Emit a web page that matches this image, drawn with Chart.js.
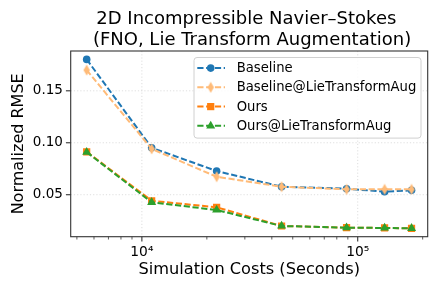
<!DOCTYPE html>
<html><head><meta charset="utf-8">
<script src="https://cdn.jsdelivr.net/npm/chart.js@4/dist/chart.umd.min.js"></script>
<style>html,body{margin:0;padding:0;background:#fff;}#wrap{width:439px;height:292px;position:relative}</style>
</head><body><div id="wrap"><canvas id="c"></canvas></div>
<script>
// ---- data ----
const simulationCosts = [5550, 11100, 22200, 44400, 88800, 133200, 177600];
const baseline     = [0.1802, 0.0952, 0.0728, 0.0577, 0.0558, 0.0529, 0.0542];
const baselineLie  = [0.1699, 0.0941, 0.0673, 0.0577, 0.0552, 0.0552, 0.0552];
const ours         = [0.0913, 0.0442, 0.0379, 0.0199, 0.0183, 0.0180, 0.0177];
const oursLie      = [0.0910, 0.0427, 0.0353, 0.0199, 0.0183, 0.0180, 0.0177];
const seriesNames  = ['Baseline', 'Baseline@LieTransformAug', 'Ours', 'Ours@LieTransformAug'];
const xMajorTicks  = [1e4, 1e5];
const xTickLabels  = ['10⁴', '10⁵'];
const xMinorTicks  = [5000,6000,7000,8000,9000,20000,30000,40000,50000,60000,70000,80000,90000,200000];
const yTicks       = [0.05, 0.10, 0.15];
const yTickLabels  = ['0.05', '0.10', '0.15'];
const titleLines   = ['2D Incompressible Navier–Stokes ', ' (FNO, Lie Transform Augmentation)'];
const xTitle = 'Simulation Costs (Seconds)';
const yTitle = 'Normalized RMSE';

// ---- styles ----
const colors = ['#1f77b4', '#ffbb78', '#ff7f0e', '#2ca02c'];
const FONT = "'DejaVu Sans', sans-serif";

function thinDiamond(color){
  const c = document.createElement('canvas');
  c.width = 8; c.height = 12;
  const g = c.getContext('2d');
  g.beginPath(); g.moveTo(4,0.5); g.lineTo(7.2,6); g.lineTo(4,11.5); g.lineTo(0.8,6); g.closePath();
  g.fillStyle = color; g.fill();
  return c;
}
const markers = [
  {pointStyle:'circle', radius:3.8},
  {pointStyle:thinDiamond(colors[1]), radius:5},
  {pointStyle:'rect', radius:5.1},
  {pointStyle:'triangle', radius:5.2}
];
const seriesData = [baseline, baselineLie, ours, oursLie];
const DASH = [6.2, 2.6];

const datasets = seriesData.map((arr,i)=>({
  label: seriesNames[i],
  data: simulationCosts.map((x,j)=>({x, y: arr[j]})),
  borderColor: colors[i], backgroundColor: colors[i],
  borderWidth: 2, borderDash: DASH,
  pointStyle: markers[i].pointStyle, pointRadius: markers[i].radius,
  pointBorderWidth: 0, pointHoverRadius: markers[i].radius,
  tension: 0, fill: false,
  order: 4 - i
}));

const decor = {
  id: 'decor',
  beforeDatasetsDraw(chart){
    const {ctx, chartArea:a, scales:{x, y}} = chart;
    ctx.save();
    ctx.strokeStyle = 'rgba(176,176,176,0.5)'; ctx.lineWidth = 0.8; ctx.setLineDash([1.2,2]);
    xMajorTicks.forEach(v=>{const p=x.getPixelForValue(v); ctx.beginPath(); ctx.moveTo(p,a.top); ctx.lineTo(p,a.bottom); ctx.stroke();});
    yTicks.forEach(v=>{const p=y.getPixelForValue(v); ctx.beginPath(); ctx.moveTo(a.left,p); ctx.lineTo(a.right,p); ctx.stroke();});
    ctx.restore();
  },
  afterDatasetsDraw(chart){
    const {ctx, chartArea:a, scales:{x, y}} = chart;
    ctx.save();
    ctx.strokeStyle = '#333'; ctx.lineWidth = 1.1; ctx.setLineDash([]);
    ctx.strokeRect(a.left, a.top, a.right-a.left, a.bottom-a.top);
    const tick = (x1,y1,x2,y2)=>{ctx.beginPath(); ctx.moveTo(x1,y1); ctx.lineTo(x2,y2); ctx.stroke();};
    xMajorTicks.forEach(v=>{const p=x.getPixelForValue(v); tick(p,a.bottom,p,a.bottom+4.8);});
    ctx.lineWidth = 0.8;
    xMinorTicks.forEach(v=>{const p=x.getPixelForValue(v); tick(p,a.bottom,p,a.bottom+2.8);});
    ctx.lineWidth = 1.1;
    yTicks.forEach(v=>{const p=y.getPixelForValue(v); tick(a.left-4.8,p,a.left,p);});
    ctx.restore();
  },
  afterDraw(chart){
    const {ctx, chartArea:a} = chart;
    ctx.save();
    const L = a.right - 233.7, T = a.top + 6.5, W = 227, H = 80.6;
    const r = 3;
    ctx.beginPath();
    ctx.moveTo(L+r,T); ctx.lineTo(L+W-r,T); ctx.arcTo(L+W,T,L+W,T+r,r);
    ctx.lineTo(L+W,T+H-r); ctx.arcTo(L+W,T+H,L+W-r,T+H,r);
    ctx.lineTo(L+r,T+H); ctx.arcTo(L,T+H,L,T+H-r,r);
    ctx.lineTo(L,T+r); ctx.arcTo(L,T,L+r,T,r); ctx.closePath();
    ctx.fillStyle = 'rgba(255,255,255,0.85)'; ctx.fill();
    ctx.strokeStyle = '#d0d0d0'; ctx.lineWidth = 1; ctx.stroke();
    ctx.font = '13.2px ' + FONT; ctx.textBaseline = 'middle'; ctx.textAlign = 'left';
    seriesNames.forEach((name,i)=>{
      const ry = T + 10.6 + i*19.25;
      const hx = L + 3.3;
      ctx.strokeStyle = colors[i]; ctx.fillStyle = colors[i];
      ctx.lineWidth = 2; ctx.setLineDash(DASH);
      ctx.beginPath(); ctx.moveTo(hx, ry); ctx.lineTo(hx+27.7, ry); ctx.stroke();
      ctx.setLineDash([]);
      Chart.helpers.drawPoint(ctx, {pointStyle: markers[i].pointStyle, radius: markers[i].radius, rotation: 0, borderWidth: 0}, hx+13.4, ry);
      ctx.fillStyle = '#000';
      ctx.fillText(name, L + 42.7, ry + 0.5);
    });
    ctx.restore();
  }
};

new Chart(document.getElementById('c'), {
  type: 'line',
  data: { datasets },
  plugins: [decor],
  options: {
    responsive: true, maintainAspectRatio: false, animation: false,
    layout: { padding: { top: 0, right: 11.3, bottom: 0, left: 0 } },
    plugins: {
      legend: { display: false },
      tooltip: { enabled: false },
      title: {
        display: true, text: titleLines, color: '#000', fullSize: false,
        font: { family: FONT, size: 18, weight: 'normal', lineHeight: 21/18 },
        padding: { top: 8.5, bottom: 0.5 }
      }
    },
    scales: {
      x: {
        type: 'logarithmic', min: 4680, max: 211000,
        grid: { display: false, drawTicks: false }, border: { display: false },
        afterBuildTicks(s){ s.ticks = xMajorTicks.map(v=>({value:v})); },
        afterFit(s){ s.height = 55.3; },
        ticks: {
          color: '#000', font: { family: FONT, size: 13.8 }, padding: 7.8, maxRotation: 0, autoSkip: false,
          callback(v){ const i = xMajorTicks.indexOf(v); return i >= 0 ? xTickLabels[i] : ''; }
        },
        title: { display: true, text: xTitle, color: '#000', font: { family: FONT, size: 16.2 }, padding: { top: 0, bottom: 12.3 } }
      },
      y: {
        type: 'linear', min: 0.0096, max: 0.1883,
        grid: { display: false, drawTicks: false }, border: { display: false },
        afterBuildTicks(s){ s.ticks = yTicks.map(v=>({value:v})); },
        afterFit(s){ s.width = 70.7; },
        ticks: {
          color: '#000', font: { family: FONT, size: 13.5 }, padding: 7.8, autoSkip: false,
          callback(v){ const i = yTicks.findIndex(t=>Math.abs(t-v)<1e-9); return i >= 0 ? yTickLabels[i] : ''; }
        },
        title: { display: true, text: yTitle, color: '#000', font: { family: FONT, size: 16 }, padding: { top: 9, bottom: 0 } }
      }
    }
  }
});
</script></body></html>
